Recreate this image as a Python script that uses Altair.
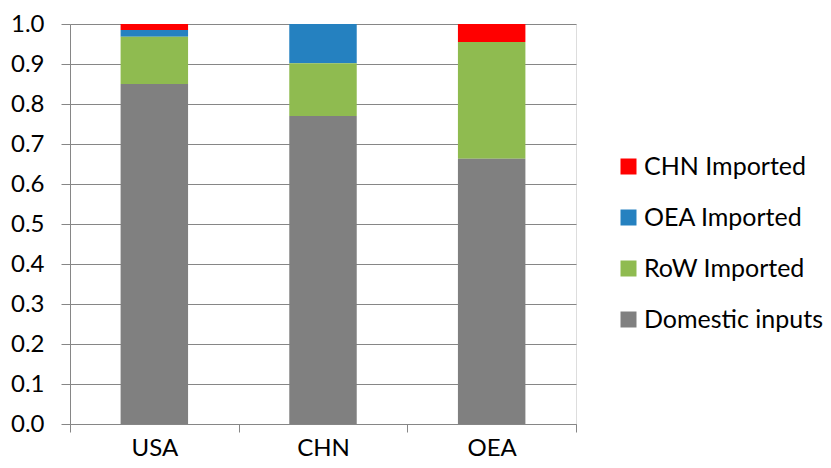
import altair as alt
import pandas as pd

regions = ["USA", "CHN", "OEA"]
series = ["CHN Imported", "OEA Imported", "RoW Imported", "Domestic inputs"]
chn_imported = [0.015, 0.000, 0.045]
oea_imported = [0.017, 0.098, 0.000]
row_imported = [0.118, 0.132, 0.292]
domestic_inputs = [0.850, 0.770, 0.663]
colors = ["#FF0000", "#2581C0", "#8FBB50", "#808080"]
y_ticks = [0.0, 0.1, 0.2, 0.3, 0.4, 0.5, 0.6, 0.7, 0.8, 0.9, 1.0]

values_by_series = [chn_imported, oea_imported, row_imported, domestic_inputs]
rows = []
for i, r in enumerate(regions):
    for k, s in enumerate(series):
        rows.append({"region": r, "series": s, "value": values_by_series[k][i],
                     "stack": len(series) - 1 - k})
df = pd.DataFrame(rows)

FONT = "Lato"
GRID = "#868686"

bars = alt.Chart(df).mark_bar(width=alt.RelativeBandSize(0.4)).encode(
    x=alt.X("region:N", sort=regions,
            scale=alt.Scale(paddingInner=0, paddingOuter=0),
            axis=alt.Axis(title=None, tickBand="extent", labelAngle=0,
                          labelFont=FONT, labelFontSize=24, labelColor="black",
                          domainColor=GRID, tickColor=GRID, tickSize=8,
                          labelPadding=4, grid=False)),
    y=alt.Y("value:Q", stack="zero",
            scale=alt.Scale(domain=[0, 1], nice=False),
            axis=alt.Axis(title=None, values=y_ticks, format=".1f",
                          labelFont=FONT, labelFontSize=24, labelColor="black",
                          domainColor=GRID, tickColor=GRID, tickSize=9,
                          labelPadding=17, grid=True, gridColor=GRID)),
    color=alt.Color("series:N",
                    scale=alt.Scale(domain=series, range=colors),
                    legend=alt.Legend(title=None, orient="none", legendX=546, legendY=130,
                                      symbolType="square", symbolSize=256,
                                      symbolStrokeWidth=0, labelFont=FONT,
                                      labelFontSize=25, labelColor="black",
                                      labelLimit=0, labelOffset=3,
                                      rowPadding=25, padding=0)),
    order=alt.Order("stack:Q", sort="ascending"),
)

chart = bars.properties(
    width=506, height=400,
    padding={"left": 70, "top": 24, "right": 255, "bottom": 44},
    autosize=alt.AutoSizeParams(type="none"),
).configure_view(stroke=None).configure(background="white")

chart.save("out.html", embed_options={"renderer": "svg", "actions": False})
